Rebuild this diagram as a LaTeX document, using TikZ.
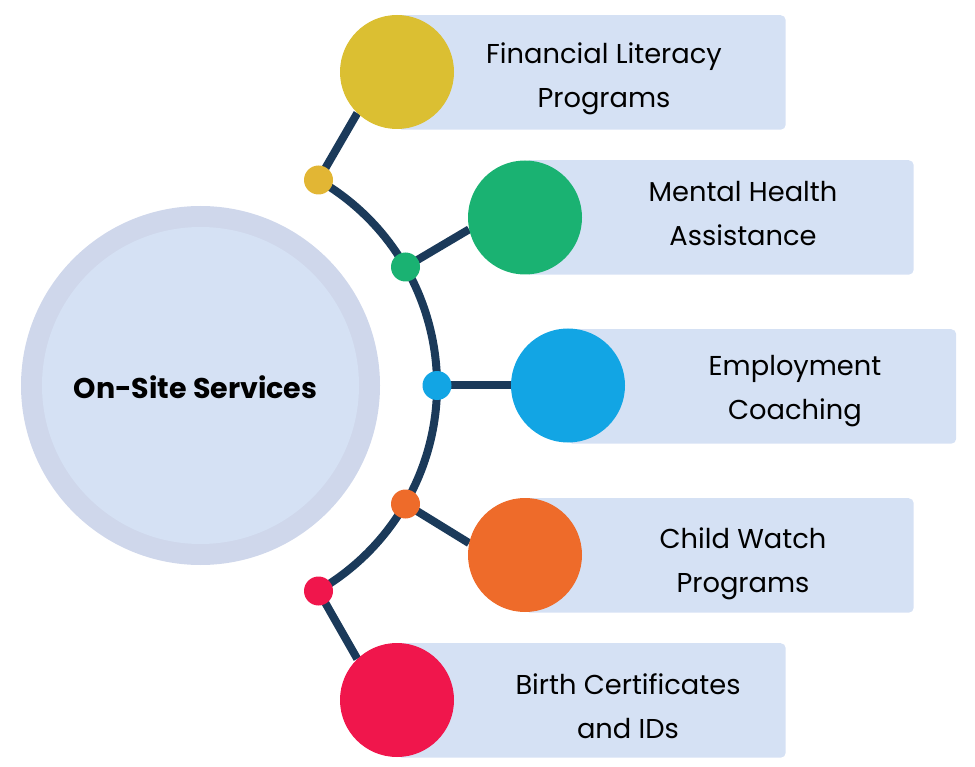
\documentclass[tikz,border=0pt]{standalone}
\usepackage{fontspec}
\setmainfont{Poppins}
\usetikzlibrary{backgrounds}
\definecolor{panel}{HTML}{D5E1F4}
\definecolor{ring}{HTML}{CFD7EB}
\definecolor{navy}{HTML}{1B3A5A}
\definecolor{cyellow}{HTML}{DBBF32}
\definecolor{dyellow}{HTML}{E2B634}
\definecolor{cgreen}{HTML}{1AB272}
\definecolor{cblue}{HTML}{12A5E4}
\definecolor{corange}{HTML}{EE6B2A}
\definecolor{cred}{HTML}{F0164C}
\tikzset{
  x=1pt,y=-1pt,
  panelbox/.style={fill=panel,rounded corners=5pt,minimum width=388.5pt,minimum height=114.5pt,inner sep=0pt,anchor=north west},
  bigdot/.style={circle,fill=#1,minimum size=114pt,inner sep=0pt},
  smalldot/.style={circle,fill=#1,minimum size=29pt,inner sep=0pt},
  conn/.style={draw=navy,line width=8pt},
  lbl/.style={font=\fontsize{27.3}{44}\selectfont,align=center,text=black}
}
\begin{document}
\begin{tikzpicture}
\useasboundingbox (0,0) rectangle (975,767);
\node[circle,fill=ring,minimum size=359pt,inner sep=0pt] (outer) at (200.5,385.5) {};
\node[circle,fill=panel,minimum size=317pt,inner sep=0pt] (inner) at (200.5,385.5) {};
\node[font=\fontsize{28.5}{30}\selectfont\bfseries,text=black] (title) at (195.5,387) {On-Site Services};

\node[panelbox] (p1) at (397,15) {};
\node[panelbox] (p2) at (525,160) {};
\node[panelbox] (p3) at (567.5,329) {};
\node[panelbox] (p4) at (525,498) {};
\node[panelbox] (p5) at (397,643) {};

\node[bigdot=cyellow] (b1) at (397,72) {};
\node[bigdot=cgreen] (b2) at (525,217.5) {};
\node[bigdot=cblue] (b3) at (568,385.5) {};
\node[bigdot=corange] (b4) at (525,555) {};
\node[bigdot=cred] (b5) at (397,700) {};

\node[smalldot=dyellow] (d1) at (318.5,180) {};
\node[smalldot=cgreen] (d2) at (405.5,267) {};
\node[smalldot=cblue] (d3) at (437,385.5) {};
\node[smalldot=corange] (d4) at (405.5,504) {};
\node[smalldot=cred] (d5) at (318.5,591) {};

\node[lbl] (t1) at (604,79) {Financial Literacy\\Programs};
\node[lbl] (t2) at (743,214) {Mental Health\\Assistance};
\node[lbl] (t3) at (795,391) {Employment\\Coaching};
\node[lbl] (t4) at (743,564) {Child Watch\\Programs};
\node[lbl] (t5) at (628,706) {Birth Certificates\\and IDs};

\begin{scope}[on background layer]
\draw[conn] (d1.center) arc[start angle=60,end angle=-60,radius=237pt];
\draw[conn] (d1.center) -- (b1.226);
\draw[conn] (d2.center) -- (b2.192);
\draw[conn] (d3.center) -- (b3.west);
\draw[conn] (d4.center) -- (b4.168);
\draw[conn] (d5.center) -- (b5.134);
\end{scope}
\end{tikzpicture}
\end{document}
